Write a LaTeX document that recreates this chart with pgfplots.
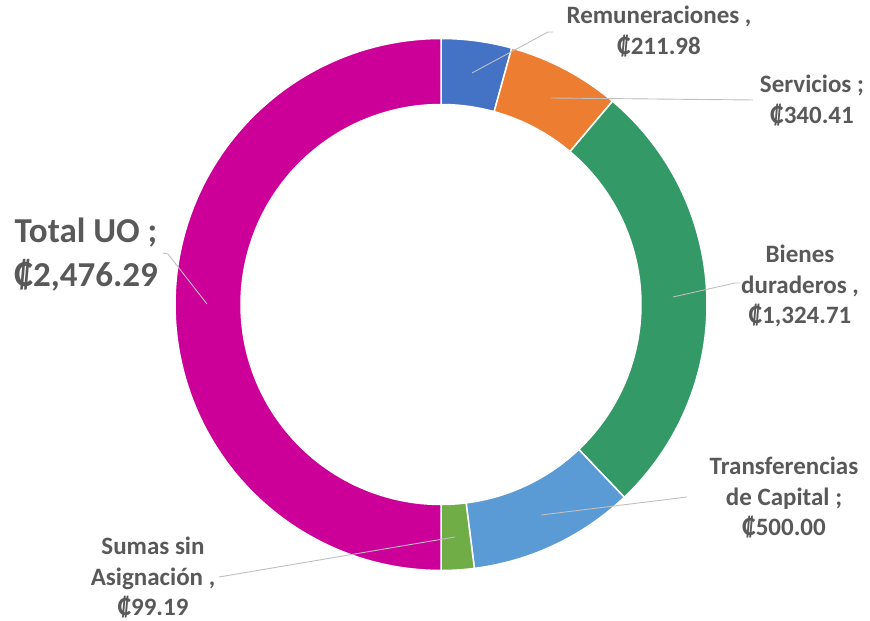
\documentclass[border=0pt]{standalone}
\usepackage{pgfplots}
\pgfplotsset{compat=1.18}
\usepackage{fontspec}
\setmainfont{Carlito}
\definecolor{cRem}{HTML}{4472C4}
\definecolor{cSer}{HTML}{ED7D31}
\definecolor{cBie}{HTML}{339966}
\definecolor{cTra}{HTML}{5B9BD5}
\definecolor{cSum}{HTML}{70AD47}
\definecolor{cTot}{HTML}{CC0099}
\definecolor{txt}{HTML}{595959}
\definecolor{lead}{HTML}{BFBFBF}
\newcommand{\slice}[3]{%
\addplot[fill=#3, draw=white, line width=1.5pt, domain=0:2, samples=201, variable=\t]
 ({441 + (\t<1.005 ? 266 : 200)*cos(\t<1.005 ? (#1)+((#2)-(#1))*\t : (#2)-((#2)-(#1))*(\t-1.01)/0.99)},
  {316.5 + (\t<1.005 ? 266 : 200)*sin(\t<1.005 ? (#1)+((#2)-(#1))*\t : (#2)-((#2)-(#1))*(\t-1.01)/0.99)}) -- cycle;}
\begin{document}
\begin{tikzpicture}
\def\vRem{211.98}\def\vSer{340.41}\def\vBie{1324.71}\def\vTra{500.00}\def\vSum{99.19}\def\vTot{2476.29}
\pgfmathsetmacro{\tot}{(\vRem+\vSer+\vBie+\vTra+\vSum+\vTot)/100}
\pgfmathsetmacro{\aO}{90}
\pgfmathsetmacro{\aA}{90-3.6*(\vRem)/\tot}
\pgfmathsetmacro{\aB}{90-3.6*(\vRem+\vSer)/\tot}
\pgfmathsetmacro{\aC}{90-3.6*(\vRem+\vSer+\vBie)/\tot}
\pgfmathsetmacro{\aD}{90-3.6*(\vRem+\vSer+\vBie+\vTra)/\tot}
\pgfmathsetmacro{\aE}{90-3.6*(\vRem+\vSer+\vBie+\vTra+\vSum)/\tot}
\pgfmathsetmacro{\aF}{-270}
\begin{axis}[width=870pt, height=621pt, scale only axis, xmin=0, xmax=870, ymin=0, ymax=621, hide axis, clip=false]
\addplot[draw=none, forget plot] coordinates {(0,0) (870,621)};
\slice{\aO}{\aA}{cRem}
\slice{\aA}{\aB}{cSer}
\slice{\aB}{\aC}{cBie}
\slice{\aC}{\aD}{cTra}
\slice{\aD}{\aE}{cSum}
\slice{\aE}{\aF}{cTot}
% leader lines
\addplot[lead, line width=0.9pt] coordinates {(472,548) (548,589) (553,589)};
\addplot[lead, line width=0.9pt] coordinates {(551,523) (753,521)};
\addplot[lead, line width=0.9pt] coordinates {(673,324) (735,338) (740,338)};
\addplot[lead, line width=0.9pt] coordinates {(541,106) (687,124)};
\addplot[lead, line width=0.9pt] coordinates {(455,84) (219,44)};
\addplot[lead, line width=0.9pt] coordinates {(207,317) (168,367) (163,368)};
% labels
\begin{scope}[every node/.style={font=\fontsize{25}{30.5}\selectfont\bfseries, text=txt, align=center, inner sep=0pt}]
\node at (axis cs:659,589.5) {Remuneraciones ,\\₡211.98};
\node at (axis cs:812,520.5) {Servicios ;\\₡340.41};
\node at (axis cs:800,335) {Bienes\\duraderos ,\\₡1,324.71};
\node at (axis cs:784,123) {Transferencias\\de Capital ;\\₡500.00};
\node at (axis cs:153,43) {Sumas sin\\Asignación ,\\₡99.19};
\node[font=\fontsize{35}{44}\selectfont\bfseries] at (axis cs:86,366) {Total UO ;\\₡2,476.29};
\end{scope}
\end{axis}
\end{tikzpicture}
\end{document}
